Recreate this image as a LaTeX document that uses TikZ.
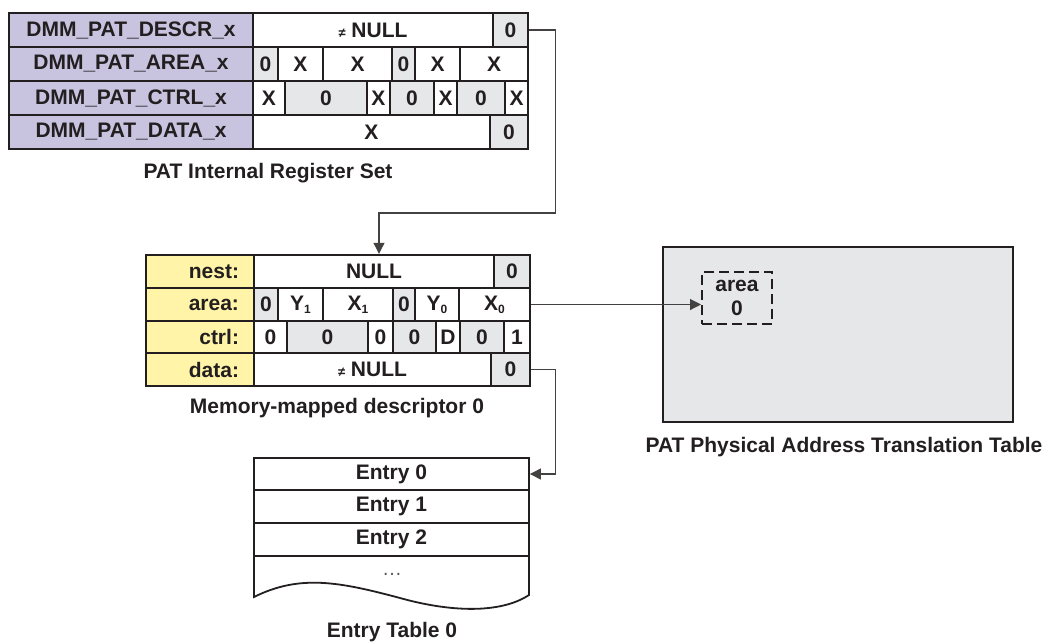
\documentclass[tikz,border=0pt]{standalone}
\usepackage{fontspec}
\setmainfont{Liberation Sans}
\usetikzlibrary{arrows.meta,calc}
\definecolor{lav}{RGB}{200,196,224}
\definecolor{pale}{RGB}{255,244,168}
\definecolor{gr}{RGB}{230,231,232}
\definecolor{ink}{RGB}{35,31,32}
% one cell of a register row: [options]{name}{x left}{x right}{y top}{y bottom}{fill}{text}
\newcommand{\regcell}[8][]{\node[cell,fill=#7,minimum width={(#4-#3)*1pt},minimum height={(#6-#5)*1pt},#1](#2)at({(#3+#4)/2},{(#5+#6)/2}){#8};}
\newcommand{\neqs}{{\fontsize{13}{13}\selectfont ≠}}
\newcommand{\sub}[1]{\raisebox{-3pt}{\fontsize{12}{12}\selectfont #1}}

\begin{document}
\begin{tikzpicture}[x=1pt,y=-1pt,font=\fontsize{21}{24}\selectfont\bfseries,text=ink,
cell/.style={draw=ink,line width=2.4pt,inner sep=0pt},
side/.style={text width=78pt,align=right},
conn/.style={draw=ink!85,line width=1.1pt},
tip/.style={-{Triangle[length=11pt,width=11pt]}}]
\useasboundingbox(0,0)rectangle(1050,643);
% PAT internal register set
\regcell{rl1}{9}{253}{13}{47}{lav}{DMM\_PAT\_DESCR\_x}\regcell{rd1}{253}{493}{13}{47}{white}{\neqs\ NULL}\regcell{rd0}{493}{528}{13}{47}{gr}{0}
\regcell{rl2}{9}{253}{47}{81}{lav}{DMM\_PAT\_AREA\_x}\regcell{ra1}{253}{278}{47}{81}{gr}{0}\regcell{ra2}{278}{323}{47}{81}{white}{X}\regcell{ra3}{323}{392}{47}{81}{white}{X}\regcell{ra4}{392}{415}{47}{81}{gr}{0}\regcell{ra5}{415}{460}{47}{81}{white}{X}\regcell{ra6}{460}{528}{47}{81}{white}{X}
\regcell{rl3}{9}{253}{81}{115}{lav}{DMM\_PAT\_CTRL\_x}\regcell{rc1}{253}{285}{81}{115}{white}{X}\regcell{rc2}{285}{367}{81}{115}{gr}{0}\regcell{rc3}{367}{390}{81}{115}{white}{X}\regcell{rc4}{390}{434}{81}{115}{gr}{0}\regcell{rc5}{434}{457}{81}{115}{white}{X}\regcell{rc6}{457}{505}{81}{115}{gr}{0}\regcell{rc7}{505}{528}{81}{115}{white}{X}
\regcell{rl4}{9}{253}{115}{149}{lav}{DMM\_PAT\_DATA\_x}\regcell{rx1}{253}{490}{115}{149}{white}{X}\regcell{rx0}{490}{528}{115}{149}{gr}{0}
\node(lreg)at(268,173){PAT Internal Register Set};
% memory-mapped descriptor
\regcell[side]{nl}{146}{254}{255}{288}{pale}{nest:}\regcell{nnull}{254}{494}{255}{288}{white}{NULL}\regcell{nz}{494}{530}{255}{288}{gr}{0}
\regcell[side]{al}{146}{254}{288}{321}{pale}{area:}\regcell{az1}{254}{278}{288}{321}{gr}{0}\regcell{ay1}{278}{323}{288}{321}{white}{Y\sub{1}}\regcell{ax1}{323}{393}{288}{321}{white}{X\sub{1}}\regcell{az0}{393}{415}{288}{321}{gr}{0}\regcell{ay0}{415}{459}{288}{321}{white}{Y\sub{0}}\regcell{ax0}{459}{530}{288}{321}{white}{X\sub{0}}
\regcell[side]{cl}{146}{254}{321}{353}{pale}{ctrl:}\regcell{c1}{254}{287}{321}{353}{white}{0}\regcell{c2}{287}{368}{321}{353}{gr}{0}\regcell{c3}{368}{393}{321}{353}{white}{0}\regcell{c4}{393}{436}{321}{353}{gr}{0}\regcell{c5}{436}{460}{321}{353}{white}{D}\regcell{c6}{460}{504}{321}{353}{gr}{0}\regcell{c7}{504}{530}{321}{353}{white}{1}
\regcell[side]{dl}{146}{254}{353}{386}{pale}{data:}\regcell{dnull}{254}{491}{353}{386}{white}{\neqs\ NULL}\regcell{dz}{491}{530}{353}{386}{gr}{0}
\node(ldesc)at(337,408){Memory-mapped descriptor 0};
% entry table
\draw[cell,line width=1.8pt,fill=white](254,556)--(254,597)..controls(300,574)and(340,582)..(400,598)..controls(450,612)and(500,614)..(529,595)--(529,556);
\node[text=ink!75,font=\fontsize{20}{20}\selectfont](dots)at(392,574){…};
\regcell[line width=1.8pt]{e0}{254}{529}{458}{490}{white}{Entry 0}\regcell[line width=1.8pt]{e1}{254}{529}{490}{523}{white}{Entry 1}\regcell[line width=1.8pt]{e2}{254}{529}{523}{556}{white}{Entry 2}
\node(ltab)at(392,632){Entry Table 0};
% PAT table
\node[cell,fill=gr,minimum width=350pt,minimum height=175pt](ptab)at(838,334.5){};
\node[draw=ink,line width=2pt,dash pattern=on 10pt off 5pt,minimum width=70pt,minimum height=52pt,inner sep=0pt,align=center](area0)at(737,298){area\\0};
\node(lpat)at(844,447){PAT Physical Address Translation Table};
% connectors
\coordinate(bend)at(379,213);
\draw[conn,tip](rd0.east)--++(26,0)|-(bend)--(bend|-nnull.north);
\draw[conn,tip](ax0.east)--(ax0.east-|area0.west);
\draw[conn,tip](dz.east)--++(24,0)|-(e0.east);
\end{tikzpicture}
\end{document}
